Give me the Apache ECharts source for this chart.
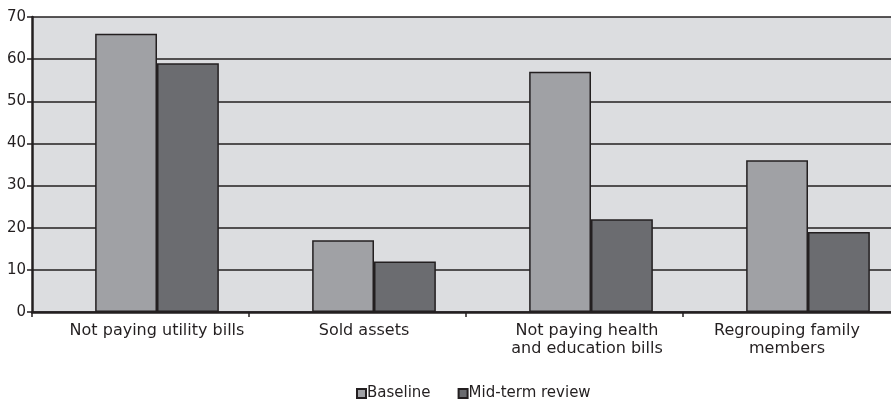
<!DOCTYPE html>
<html>
<head>
<meta charset="utf-8">
<script src="https://cdn.jsdelivr.net/npm/echarts@6/dist/echarts.min.js"></script>
<style>
  html, body { margin: 0; padding: 0; background: #fff; }
  #chart { width: 891px; height: 399px; }
</style>
</head>
<body>
<div id="chart"></div>
<script>
// Coping strategies: share of households (%)
const categories = [
  'Not paying utility bills',
  'Sold assets',
  'Not paying health\nand education bills',
  'Regrouping family\nmembers'
];
const baseline = [66, 17, 57, 36];
const midTerm = [59, 12, 22, 19];
const yTicks = { min: 0, max: 70, interval: 10 };

const ink = '#231f20';
const font = 'DejaVu Sans';

// horizontal nudge (px, leftwards) for each category label
const labelNudge = [0, 10, 4, 21];
const labelItems = categories.map((name, i) => ({
  value: name,
  textStyle: { padding: [0, labelNudge[i] * 2, 0, 0] }
}));

const chart = echarts.init(document.getElementById('chart'), null, { renderer: 'canvas' });

chart.setOption({
  animation: false,
  grid: [
    // frame: background, gridlines, axes and ticks (runs past the right edge)
    { left: 32, width: 868, top: 17, height: 295, show: true, outerBoundsMode: 'none',
      backgroundColor: '#dcdde0', borderWidth: 0 },
    // bars: same scale, category bands shifted right
    { left: 48.5, width: 868, top: 17, height: 295, outerBoundsMode: 'none' }
  ],
  xAxis: [
    { gridIndex: 0, type: 'category', data: categories, boundaryGap: true,
      axisLine: { show: true, lineStyle: { color: ink, width: 2.5 } },
      axisTick: { show: true, length: 5, lineStyle: { color: ink, width: 1.5 } },
      axisLabel: { show: false }, splitLine: { show: false } },
    { gridIndex: 1, type: 'category', data: labelItems, boundaryGap: true,
      axisLine: { show: false }, axisTick: { show: false },
      axisLabel: { color: ink, fontFamily: font, fontSize: 16, margin: 10, lineHeight: 18, interval: 0 } }
  ],
  yAxis: [
    { gridIndex: 0, type: 'value', min: yTicks.min, max: yTicks.max, interval: yTicks.interval,
      axisLine: { show: true, lineStyle: { color: ink, width: 2.5 } },
      axisTick: { show: true, length: 5, lineStyle: { color: ink, width: 1.5 } },
      axisLabel: { color: ink, fontFamily: font, fontSize: 15, margin: 6 },
      splitLine: { show: true, lineStyle: { color: ink, width: 1.5 } } },
    { gridIndex: 1, type: 'value', min: yTicks.min, max: yTicks.max, interval: yTicks.interval,
      show: false, splitLine: { show: false } }
  ],
  legend: {
    left: 351, top: 381, icon: 'rect', itemWidth: 9, itemHeight: 9, itemGap: 27,
    textStyle: { color: ink, fontFamily: font, fontSize: 15, padding: [0, 0, 0, -4] }
  },
  series: [
    { name: 'Baseline', type: 'bar', xAxisIndex: 1, yAxisIndex: 1, data: baseline,
      barGap: '0%', barCategoryGap: '43%',
      itemStyle: { color: '#a0a1a5', borderColor: ink, borderWidth: 1.5 } },
    { name: 'Mid-term review', type: 'bar', xAxisIndex: 1, yAxisIndex: 1, data: midTerm,
      barGap: '0%', barCategoryGap: '43%',
      itemStyle: { color: '#6b6c70', borderColor: ink, borderWidth: 1.5 } }
  ]
});
</script>
</body>
</html>
